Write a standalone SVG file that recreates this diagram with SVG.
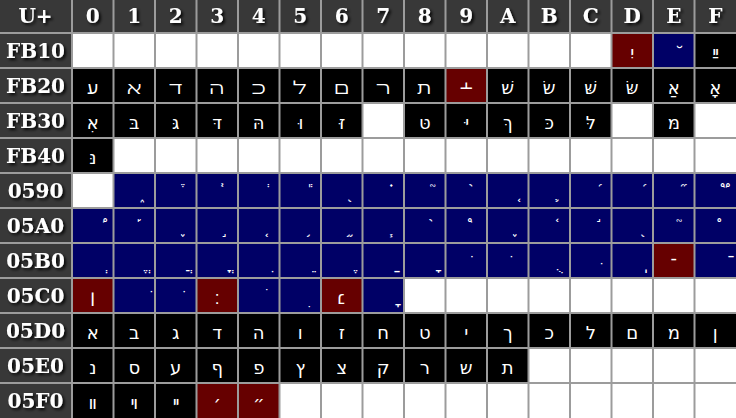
<svg xmlns="http://www.w3.org/2000/svg" width="736" height="418" viewBox="0 0 736 418">
<defs>
<filter id="sh" x="-20%" y="-40%" width="150%" height="190%"><feDropShadow dx="2" dy="2" stdDeviation="1.6" flood-color="#000" flood-opacity="0.9"/></filter>
<style>
.h{fill:#383838}.w{fill:#fff}.k{fill:#000}.n{fill:#000066}.m{fill:#660000}
.hd{font-family:"DejaVu Serif","Liberation Serif",serif;font-weight:bold;font-size:20px;fill:#fff;text-anchor:middle;filter:url(#sh)}
.c{font-family:"DejaVu Sans","Liberation Sans",sans-serif;font-size:18px;fill:#fff;text-anchor:middle}
</style>
</defs>
<rect x="0" y="0" width="736" height="418" fill="#9c9c9c"/>
<g id="headers">
<g id="corner"><rect class="h" x="0" y="0" width="71" height="32"/><text class="hd" x="35.5" y="23">U+</text></g>
<g id="col-0"><rect class="h" x="73" y="0" width="39.5" height="32"/><text class="hd" x="92.75" y="23">0</text></g>
<g id="col-1"><rect class="h" x="114.5" y="0" width="39.5" height="32"/><text class="hd" x="134.25" y="23">1</text></g>
<g id="col-2"><rect class="h" x="156" y="0" width="39.5" height="32"/><text class="hd" x="175.75" y="23">2</text></g>
<g id="col-3"><rect class="h" x="197.5" y="0" width="39.5" height="32"/><text class="hd" x="217.25" y="23">3</text></g>
<g id="col-4"><rect class="h" x="239" y="0" width="39.5" height="32"/><text class="hd" x="258.75" y="23">4</text></g>
<g id="col-5"><rect class="h" x="280.5" y="0" width="39.5" height="32"/><text class="hd" x="300.25" y="23">5</text></g>
<g id="col-6"><rect class="h" x="322" y="0" width="39.5" height="32"/><text class="hd" x="341.75" y="23">6</text></g>
<g id="col-7"><rect class="h" x="363.5" y="0" width="39.5" height="32"/><text class="hd" x="383.25" y="23">7</text></g>
<g id="col-8"><rect class="h" x="405" y="0" width="39.5" height="32"/><text class="hd" x="424.75" y="23">8</text></g>
<g id="col-9"><rect class="h" x="446.5" y="0" width="39.5" height="32"/><text class="hd" x="466.25" y="23">9</text></g>
<g id="col-A"><rect class="h" x="488" y="0" width="39.5" height="32"/><text class="hd" x="507.75" y="23">A</text></g>
<g id="col-B"><rect class="h" x="529.5" y="0" width="39.5" height="32"/><text class="hd" x="549.25" y="23">B</text></g>
<g id="col-C"><rect class="h" x="571" y="0" width="39.5" height="32"/><text class="hd" x="590.75" y="23">C</text></g>
<g id="col-D"><rect class="h" x="612.5" y="0" width="39.5" height="32"/><text class="hd" x="632.25" y="23">D</text></g>
<g id="col-E"><rect class="h" x="654" y="0" width="39.5" height="32"/><text class="hd" x="673.75" y="23">E</text></g>
<g id="col-F"><rect class="h" x="695.5" y="0" width="40.5" height="32"/><text class="hd" x="715.25" y="23">F</text></g>
<g id="row-FB10"><rect class="h" x="0" y="34" width="71" height="33"/><text class="hd" x="35.5" y="58">FB10</text></g>
<g id="row-FB20"><rect class="h" x="0" y="69" width="71" height="33"/><text class="hd" x="35.5" y="93">FB20</text></g>
<g id="row-FB30"><rect class="h" x="0" y="104" width="71" height="33"/><text class="hd" x="35.5" y="128">FB30</text></g>
<g id="row-FB40"><rect class="h" x="0" y="139" width="71" height="33"/><text class="hd" x="35.5" y="163">FB40</text></g>
<g id="row-0590"><rect class="h" x="0" y="174" width="71" height="33"/><text class="hd" x="35.5" y="198">0590</text></g>
<g id="row-05A0"><rect class="h" x="0" y="209" width="71" height="33"/><text class="hd" x="35.5" y="233">05A0</text></g>
<g id="row-05B0"><rect class="h" x="0" y="244" width="71" height="33"/><text class="hd" x="35.5" y="268">05B0</text></g>
<g id="row-05C0"><rect class="h" x="0" y="279" width="71" height="33"/><text class="hd" x="35.5" y="303">05C0</text></g>
<g id="row-05D0"><rect class="h" x="0" y="314" width="71" height="33"/><text class="hd" x="35.5" y="338">05D0</text></g>
<g id="row-05E0"><rect class="h" x="0" y="349" width="71" height="33"/><text class="hd" x="35.5" y="373">05E0</text></g>
<g id="row-05F0"><rect class="h" x="0" y="384" width="71" height="34"/><text class="hd" x="35.5" y="408">05F0</text></g>
</g>
<g id="cells">
<g id="uFB10"><rect class="w" x="73" y="34" width="39.5" height="33"/></g>
<g id="uFB11"><rect class="w" x="114.5" y="34" width="39.5" height="33"/></g>
<g id="uFB12"><rect class="w" x="156" y="34" width="39.5" height="33"/></g>
<g id="uFB13"><rect class="w" x="197.5" y="34" width="39.5" height="33"/></g>
<g id="uFB14"><rect class="w" x="239" y="34" width="39.5" height="33"/></g>
<g id="uFB15"><rect class="w" x="280.5" y="34" width="39.5" height="33"/></g>
<g id="uFB16"><rect class="w" x="322" y="34" width="39.5" height="33"/></g>
<g id="uFB17"><rect class="w" x="363.5" y="34" width="39.5" height="33"/></g>
<g id="uFB18"><rect class="w" x="405" y="34" width="39.5" height="33"/></g>
<g id="uFB19"><rect class="w" x="446.5" y="34" width="39.5" height="33"/></g>
<g id="uFB1A"><rect class="w" x="488" y="34" width="39.5" height="33"/></g>
<g id="uFB1B"><rect class="w" x="529.5" y="34" width="39.5" height="33"/></g>
<g id="uFB1C"><rect class="w" x="571" y="34" width="39.5" height="33"/></g>
<g id="uFB1D"><rect class="m" x="612.5" y="34" width="39.5" height="33"/><text class="c" x="632.25" y="59">&#xFB1D;</text></g>
<g id="uFB1E"><rect class="n" x="654" y="34" width="39.5" height="33"/><text class="c" x="673.75" y="59">&#xFB1E;</text></g>
<g id="uFB1F"><rect class="k" x="695.5" y="34" width="40.5" height="33"/><text class="c" x="715.25" y="59">&#xFB1F;</text></g>

<g id="uFB20"><rect class="k" x="73" y="69" width="39.5" height="33"/><text class="c" x="92.75" y="94">&#xFB20;</text></g>
<g id="uFB21"><rect class="k" x="114.5" y="69" width="39.5" height="33"/><text class="c" x="134.25" y="94">&#xFB21;</text></g>
<g id="uFB22"><rect class="k" x="156" y="69" width="39.5" height="33"/><text class="c" x="175.75" y="94">&#xFB22;</text></g>
<g id="uFB23"><rect class="k" x="197.5" y="69" width="39.5" height="33"/><text class="c" x="217.25" y="94">&#xFB23;</text></g>
<g id="uFB24"><rect class="k" x="239" y="69" width="39.5" height="33"/><text class="c" x="258.75" y="94">&#xFB24;</text></g>
<g id="uFB25"><rect class="k" x="280.5" y="69" width="39.5" height="33"/><text class="c" x="300.25" y="94">&#xFB25;</text></g>
<g id="uFB26"><rect class="k" x="322" y="69" width="39.5" height="33"/><text class="c" x="341.75" y="94">&#xFB26;</text></g>
<g id="uFB27"><rect class="k" x="363.5" y="69" width="39.5" height="33"/><text class="c" x="383.25" y="94">&#xFB27;</text></g>
<g id="uFB28"><rect class="k" x="405" y="69" width="39.5" height="33"/><text class="c" x="424.75" y="94">&#xFB28;</text></g>
<g id="uFB29"><rect class="m" x="446.5" y="69" width="39.5" height="33"/><text class="c" x="466.25" y="94">&#xFB29;</text></g>
<g id="uFB2A"><rect class="k" x="488" y="69" width="39.5" height="33"/><text class="c" x="507.75" y="94">&#xFB2A;</text></g>
<g id="uFB2B"><rect class="k" x="529.5" y="69" width="39.5" height="33"/><text class="c" x="549.25" y="94">&#xFB2B;</text></g>
<g id="uFB2C"><rect class="k" x="571" y="69" width="39.5" height="33"/><text class="c" x="590.75" y="94">&#xFB2C;</text></g>
<g id="uFB2D"><rect class="k" x="612.5" y="69" width="39.5" height="33"/><text class="c" x="632.25" y="94">&#xFB2D;</text></g>
<g id="uFB2E"><rect class="k" x="654" y="69" width="39.5" height="33"/><text class="c" x="673.75" y="94">&#xFB2E;</text></g>
<g id="uFB2F"><rect class="k" x="695.5" y="69" width="40.5" height="33"/><text class="c" x="715.25" y="94">&#xFB2F;</text></g>

<g id="uFB30"><rect class="k" x="73" y="104" width="39.5" height="33"/><text class="c" x="92.75" y="129">&#xFB30;</text></g>
<g id="uFB31"><rect class="k" x="114.5" y="104" width="39.5" height="33"/><text class="c" x="134.25" y="129">&#xFB31;</text></g>
<g id="uFB32"><rect class="k" x="156" y="104" width="39.5" height="33"/><text class="c" x="175.75" y="129">&#xFB32;</text></g>
<g id="uFB33"><rect class="k" x="197.5" y="104" width="39.5" height="33"/><text class="c" x="217.25" y="129">&#xFB33;</text></g>
<g id="uFB34"><rect class="k" x="239" y="104" width="39.5" height="33"/><text class="c" x="258.75" y="129">&#xFB34;</text></g>
<g id="uFB35"><rect class="k" x="280.5" y="104" width="39.5" height="33"/><text class="c" x="300.25" y="129">&#xFB35;</text></g>
<g id="uFB36"><rect class="k" x="322" y="104" width="39.5" height="33"/><text class="c" x="341.75" y="129">&#xFB36;</text></g>
<g id="uFB37"><rect class="w" x="363.5" y="104" width="39.5" height="33"/></g>
<g id="uFB38"><rect class="k" x="405" y="104" width="39.5" height="33"/><text class="c" x="424.75" y="129">&#xFB38;</text></g>
<g id="uFB39"><rect class="k" x="446.5" y="104" width="39.5" height="33"/><text class="c" x="466.25" y="129">&#xFB39;</text></g>
<g id="uFB3A"><rect class="k" x="488" y="104" width="39.5" height="33"/><text class="c" x="507.75" y="129">&#xFB3A;</text></g>
<g id="uFB3B"><rect class="k" x="529.5" y="104" width="39.5" height="33"/><text class="c" x="549.25" y="129">&#xFB3B;</text></g>
<g id="uFB3C"><rect class="k" x="571" y="104" width="39.5" height="33"/><text class="c" x="590.75" y="129">&#xFB3C;</text></g>
<g id="uFB3D"><rect class="w" x="612.5" y="104" width="39.5" height="33"/></g>
<g id="uFB3E"><rect class="k" x="654" y="104" width="39.5" height="33"/><text class="c" x="673.75" y="129">&#xFB3E;</text></g>
<g id="uFB3F"><rect class="w" x="695.5" y="104" width="40.5" height="33"/></g>

<g id="uFB40"><rect class="k" x="73" y="139" width="39.5" height="33"/><text class="c" x="92.75" y="164">&#xFB40;</text></g>
<g id="uFB41"><rect class="w" x="114.5" y="139" width="39.5" height="33"/></g>
<g id="uFB42"><rect class="w" x="156" y="139" width="39.5" height="33"/></g>
<g id="uFB43"><rect class="w" x="197.5" y="139" width="39.5" height="33"/></g>
<g id="uFB44"><rect class="w" x="239" y="139" width="39.5" height="33"/></g>
<g id="uFB45"><rect class="w" x="280.5" y="139" width="39.5" height="33"/></g>
<g id="uFB46"><rect class="w" x="322" y="139" width="39.5" height="33"/></g>
<g id="uFB47"><rect class="w" x="363.5" y="139" width="39.5" height="33"/></g>
<g id="uFB48"><rect class="w" x="405" y="139" width="39.5" height="33"/></g>
<g id="uFB49"><rect class="w" x="446.5" y="139" width="39.5" height="33"/></g>
<g id="uFB4A"><rect class="w" x="488" y="139" width="39.5" height="33"/></g>
<g id="uFB4B"><rect class="w" x="529.5" y="139" width="39.5" height="33"/></g>
<g id="uFB4C"><rect class="w" x="571" y="139" width="39.5" height="33"/></g>
<g id="uFB4D"><rect class="w" x="612.5" y="139" width="39.5" height="33"/></g>
<g id="uFB4E"><rect class="w" x="654" y="139" width="39.5" height="33"/></g>
<g id="uFB4F"><rect class="w" x="695.5" y="139" width="40.5" height="33"/></g>

<g id="u0590"><rect class="w" x="73" y="174" width="39.5" height="33"/></g>
<g id="u0591"><rect class="n" x="114.5" y="174" width="39.5" height="33"/><text class="c" x="142.25" y="199">&#x591;</text></g>
<g id="u0592"><rect class="n" x="156" y="174" width="39.5" height="33"/><text class="c" x="180.75" y="199">&#x592;</text></g>
<g id="u0593"><rect class="n" x="197.5" y="174" width="39.5" height="33"/><text class="c" x="222.25" y="199">&#x593;</text></g>
<g id="u0594"><rect class="n" x="239" y="174" width="39.5" height="33"/><text class="c" x="266.75" y="199">&#x594;</text></g>
<g id="u0595"><rect class="n" x="280.5" y="174" width="39.5" height="33"/><text class="c" x="308.25" y="199">&#x595;</text></g>
<g id="u0596"><rect class="n" x="322" y="174" width="39.5" height="33"/><text class="c" x="349.75" y="199">&#x596;</text></g>
<g id="u0597"><rect class="n" x="363.5" y="174" width="39.5" height="33"/><text class="c" x="391.25" y="199">&#x597;</text></g>
<g id="u0598"><rect class="n" x="405" y="174" width="39.5" height="33"/><text class="c" x="432.75" y="199">&#x598;</text></g>
<g id="u0599"><rect class="n" x="446.5" y="174" width="39.5" height="33"/><text class="c" x="472.25" y="199">&#x599;</text></g>
<g id="u059A"><rect class="n" x="488" y="174" width="39.5" height="33"/><text class="c" x="517.75" y="199">&#x59A;</text></g>
<g id="u059B"><rect class="n" x="529.5" y="174" width="39.5" height="33"/><text class="c" x="557.25" y="199">&#x59B;</text></g>
<g id="u059C"><rect class="n" x="571" y="174" width="39.5" height="33"/><text class="c" x="598.75" y="199">&#x59C;</text></g>
<g id="u059D"><rect class="n" x="612.5" y="174" width="39.5" height="33"/><text class="c" x="643.25" y="199">&#x59D;</text></g>
<g id="u059E"><rect class="n" x="654" y="174" width="39.5" height="33"/><text class="c" x="683.75" y="199">&#x59E;</text></g>
<g id="u059F"><rect class="n" x="695.5" y="174" width="40.5" height="33"/><text class="c" x="725.25" y="199">&#x59F;</text></g>

<g id="u05A0"><rect class="n" x="73" y="209" width="39.5" height="33"/><text class="c" x="102.75" y="234">&#x5A0;</text></g>
<g id="u05A1"><rect class="n" x="114.5" y="209" width="39.5" height="33"/><text class="c" x="139.25" y="234">&#x5A1;</text></g>
<g id="u05A2"><rect class="n" x="156" y="209" width="39.5" height="33"/><text class="c" x="182.75" y="234">&#x5A2;</text></g>
<g id="u05A3"><rect class="n" x="197.5" y="209" width="39.5" height="33"/><text class="c" x="224.25" y="234">&#x5A3;</text></g>
<g id="u05A4"><rect class="n" x="239" y="209" width="39.5" height="33"/><text class="c" x="266.75" y="234">&#x5A4;</text></g>
<g id="u05A5"><rect class="n" x="280.5" y="209" width="39.5" height="33"/><text class="c" x="308.25" y="234">&#x5A5;</text></g>
<g id="u05A6"><rect class="n" x="322" y="209" width="39.5" height="33"/><text class="c" x="349.75" y="234">&#x5A6;</text></g>
<g id="u05A7"><rect class="n" x="363.5" y="209" width="39.5" height="33"/><text class="c" x="391.25" y="234">&#x5A7;</text></g>
<g id="u05A8"><rect class="n" x="405" y="209" width="39.5" height="33"/><text class="c" x="430.75" y="234">&#x5A8;</text></g>
<g id="u05A9"><rect class="n" x="446.5" y="209" width="39.5" height="33"/><text class="c" x="472.25" y="234">&#x5A9;</text></g>
<g id="u05AA"><rect class="n" x="488" y="209" width="39.5" height="33"/><text class="c" x="514.75" y="234">&#x5AA;</text></g>
<g id="u05AB"><rect class="n" x="529.5" y="209" width="39.5" height="33"/><text class="c" x="557.25" y="234">&#x5AB;</text></g>
<g id="u05AC"><rect class="n" x="571" y="209" width="39.5" height="33"/><text class="c" x="598.75" y="234">&#x5AC;</text></g>
<g id="u05AD"><rect class="n" x="612.5" y="209" width="39.5" height="33"/><text class="c" x="641.25" y="234">&#x5AD;</text></g>
<g id="u05AE"><rect class="n" x="654" y="209" width="39.5" height="33"/><text class="c" x="681.75" y="234">&#x5AE;</text></g>
<g id="u05AF"><rect class="n" x="695.5" y="209" width="40.5" height="33"/><text class="c" x="719.25" y="234">&#x5AF;</text></g>

<g id="u05B0"><rect class="n" x="73" y="244" width="39.5" height="33"/><text class="c" x="100.75" y="269">&#x5B0;</text></g>
<g id="u05B1"><rect class="n" x="114.5" y="244" width="39.5" height="33"/><text class="c" x="142.25" y="269">&#x5B1;</text></g>
<g id="u05B2"><rect class="n" x="156" y="244" width="39.5" height="33"/><text class="c" x="183.75" y="269">&#x5B2;</text></g>
<g id="u05B3"><rect class="n" x="197.5" y="244" width="39.5" height="33"/><text class="c" x="225.25" y="269">&#x5B3;</text></g>
<g id="u05B4"><rect class="n" x="239" y="244" width="39.5" height="33"/><text class="c" x="266.75" y="269">&#x5B4;</text></g>
<g id="u05B5"><rect class="n" x="280.5" y="244" width="39.5" height="33"/><text class="c" x="308.25" y="269">&#x5B5;</text></g>
<g id="u05B6"><rect class="n" x="322" y="244" width="39.5" height="33"/><text class="c" x="349.75" y="269">&#x5B6;</text></g>
<g id="u05B7"><rect class="n" x="363.5" y="244" width="39.5" height="33"/><text class="c" x="391.25" y="269">&#x5B7;</text></g>
<g id="u05B8"><rect class="n" x="405" y="244" width="39.5" height="33"/><text class="c" x="432.75" y="269">&#x5B8;</text></g>
<g id="u05B9"><rect class="n" x="446.5" y="244" width="39.5" height="33"/><text class="c" x="471.25" y="269">&#x5B9;</text></g>
<g id="u05BA"><rect class="n" x="488" y="244" width="39.5" height="33"/><text class="c" x="510.75" y="269">&#x5BA;</text></g>
<g id="u05BB"><rect class="n" x="529.5" y="244" width="39.5" height="33"/><text class="c" x="554.25" y="269">&#x5BB;</text></g>
<g id="u05BC"><rect class="n" x="571" y="244" width="39.5" height="33"/><text class="c" x="595.75" y="269">&#x5BC;</text></g>
<g id="u05BD"><rect class="n" x="612.5" y="244" width="39.5" height="33"/><text class="c" x="640.25" y="269">&#x5BD;</text></g>
<g id="u05BE"><rect class="m" x="654" y="244" width="39.5" height="33"/><text class="c" x="673.75" y="269">&#x5BE;</text></g>
<g id="u05BF"><rect class="n" x="695.5" y="244" width="40.5" height="33"/><text class="c" x="725.25" y="269">&#x5BF;</text></g>

<g id="u05C0"><rect class="m" x="73" y="279" width="39.5" height="33"/><text class="c" x="92.75" y="304">&#x5C0;</text></g>
<g id="u05C1"><rect class="n" x="114.5" y="279" width="39.5" height="33"/><text class="c" x="139.25" y="304">&#x5C1;</text></g>
<g id="u05C2"><rect class="n" x="156" y="279" width="39.5" height="33"/><text class="c" x="181.75" y="304">&#x5C2;</text></g>
<g id="u05C3"><rect class="m" x="197.5" y="279" width="39.5" height="33"/><text class="c" x="217.25" y="304">&#x5C3;</text></g>
<g id="u05C4"><rect class="n" x="239" y="279" width="39.5" height="33"/><text class="c" x="266.75" y="304">&#x5C4;</text></g>
<g id="u05C5"><rect class="n" x="280.5" y="279" width="39.5" height="33"/><text class="c" x="309.25" y="304">&#x5C5;</text></g>
<g id="u05C6"><rect class="m" x="322" y="279" width="39.5" height="33"/><text class="c" x="341.75" y="304">&#x5C6;</text></g>
<g id="u05C7"><rect class="n" x="363.5" y="279" width="39.5" height="33"/><text class="c" x="392.25" y="304">&#x5C7;</text></g>
<g id="u05C8"><rect class="w" x="405" y="279" width="39.5" height="33"/></g>
<g id="u05C9"><rect class="w" x="446.5" y="279" width="39.5" height="33"/></g>
<g id="u05CA"><rect class="w" x="488" y="279" width="39.5" height="33"/></g>
<g id="u05CB"><rect class="w" x="529.5" y="279" width="39.5" height="33"/></g>
<g id="u05CC"><rect class="w" x="571" y="279" width="39.5" height="33"/></g>
<g id="u05CD"><rect class="w" x="612.5" y="279" width="39.5" height="33"/></g>
<g id="u05CE"><rect class="w" x="654" y="279" width="39.5" height="33"/></g>
<g id="u05CF"><rect class="w" x="695.5" y="279" width="40.5" height="33"/></g>

<g id="u05D0"><rect class="k" x="73" y="314" width="39.5" height="33"/><text class="c" x="92.75" y="339">&#x5D0;</text></g>
<g id="u05D1"><rect class="k" x="114.5" y="314" width="39.5" height="33"/><text class="c" x="134.25" y="339">&#x5D1;</text></g>
<g id="u05D2"><rect class="k" x="156" y="314" width="39.5" height="33"/><text class="c" x="175.75" y="339">&#x5D2;</text></g>
<g id="u05D3"><rect class="k" x="197.5" y="314" width="39.5" height="33"/><text class="c" x="217.25" y="339">&#x5D3;</text></g>
<g id="u05D4"><rect class="k" x="239" y="314" width="39.5" height="33"/><text class="c" x="258.75" y="339">&#x5D4;</text></g>
<g id="u05D5"><rect class="k" x="280.5" y="314" width="39.5" height="33"/><text class="c" x="300.25" y="339">&#x5D5;</text></g>
<g id="u05D6"><rect class="k" x="322" y="314" width="39.5" height="33"/><text class="c" x="341.75" y="339">&#x5D6;</text></g>
<g id="u05D7"><rect class="k" x="363.5" y="314" width="39.5" height="33"/><text class="c" x="383.25" y="339">&#x5D7;</text></g>
<g id="u05D8"><rect class="k" x="405" y="314" width="39.5" height="33"/><text class="c" x="424.75" y="339">&#x5D8;</text></g>
<g id="u05D9"><rect class="k" x="446.5" y="314" width="39.5" height="33"/><text class="c" x="466.25" y="339">&#x5D9;</text></g>
<g id="u05DA"><rect class="k" x="488" y="314" width="39.5" height="33"/><text class="c" x="507.75" y="339">&#x5DA;</text></g>
<g id="u05DB"><rect class="k" x="529.5" y="314" width="39.5" height="33"/><text class="c" x="549.25" y="339">&#x5DB;</text></g>
<g id="u05DC"><rect class="k" x="571" y="314" width="39.5" height="33"/><text class="c" x="590.75" y="339">&#x5DC;</text></g>
<g id="u05DD"><rect class="k" x="612.5" y="314" width="39.5" height="33"/><text class="c" x="632.25" y="339">&#x5DD;</text></g>
<g id="u05DE"><rect class="k" x="654" y="314" width="39.5" height="33"/><text class="c" x="673.75" y="339">&#x5DE;</text></g>
<g id="u05DF"><rect class="k" x="695.5" y="314" width="40.5" height="33"/><text class="c" x="715.25" y="339">&#x5DF;</text></g>

<g id="u05E0"><rect class="k" x="73" y="349" width="39.5" height="33"/><text class="c" x="92.75" y="374">&#x5E0;</text></g>
<g id="u05E1"><rect class="k" x="114.5" y="349" width="39.5" height="33"/><text class="c" x="134.25" y="374">&#x5E1;</text></g>
<g id="u05E2"><rect class="k" x="156" y="349" width="39.5" height="33"/><text class="c" x="175.75" y="374">&#x5E2;</text></g>
<g id="u05E3"><rect class="k" x="197.5" y="349" width="39.5" height="33"/><text class="c" x="217.25" y="374">&#x5E3;</text></g>
<g id="u05E4"><rect class="k" x="239" y="349" width="39.5" height="33"/><text class="c" x="258.75" y="374">&#x5E4;</text></g>
<g id="u05E5"><rect class="k" x="280.5" y="349" width="39.5" height="33"/><text class="c" x="300.25" y="374">&#x5E5;</text></g>
<g id="u05E6"><rect class="k" x="322" y="349" width="39.5" height="33"/><text class="c" x="341.75" y="374">&#x5E6;</text></g>
<g id="u05E7"><rect class="k" x="363.5" y="349" width="39.5" height="33"/><text class="c" x="383.25" y="374">&#x5E7;</text></g>
<g id="u05E8"><rect class="k" x="405" y="349" width="39.5" height="33"/><text class="c" x="424.75" y="374">&#x5E8;</text></g>
<g id="u05E9"><rect class="k" x="446.5" y="349" width="39.5" height="33"/><text class="c" x="466.25" y="374">&#x5E9;</text></g>
<g id="u05EA"><rect class="k" x="488" y="349" width="39.5" height="33"/><text class="c" x="507.75" y="374">&#x5EA;</text></g>
<g id="u05EB"><rect class="w" x="529.5" y="349" width="39.5" height="33"/></g>
<g id="u05EC"><rect class="w" x="571" y="349" width="39.5" height="33"/></g>
<g id="u05ED"><rect class="w" x="612.5" y="349" width="39.5" height="33"/></g>
<g id="u05EE"><rect class="w" x="654" y="349" width="39.5" height="33"/></g>
<g id="u05EF"><rect class="w" x="695.5" y="349" width="40.5" height="33"/></g>

<g id="u05F0"><rect class="k" x="73" y="384" width="39.5" height="34"/><text class="c" x="92.75" y="409">&#x5F0;</text></g>
<g id="u05F1"><rect class="k" x="114.5" y="384" width="39.5" height="34"/><text class="c" x="134.25" y="409">&#x5F1;</text></g>
<g id="u05F2"><rect class="k" x="156" y="384" width="39.5" height="34"/><text class="c" x="175.75" y="409">&#x5F2;</text></g>
<g id="u05F3"><rect class="m" x="197.5" y="384" width="39.5" height="34"/><text class="c" x="217.25" y="409">&#x5F3;</text></g>
<g id="u05F4"><rect class="m" x="239" y="384" width="39.5" height="34"/><text class="c" x="258.75" y="409">&#x5F4;</text></g>
<g id="u05F5"><rect class="w" x="280.5" y="384" width="39.5" height="34"/></g>
<g id="u05F6"><rect class="w" x="322" y="384" width="39.5" height="34"/></g>
<g id="u05F7"><rect class="w" x="363.5" y="384" width="39.5" height="34"/></g>
<g id="u05F8"><rect class="w" x="405" y="384" width="39.5" height="34"/></g>
<g id="u05F9"><rect class="w" x="446.5" y="384" width="39.5" height="34"/></g>
<g id="u05FA"><rect class="w" x="488" y="384" width="39.5" height="34"/></g>
<g id="u05FB"><rect class="w" x="529.5" y="384" width="39.5" height="34"/></g>
<g id="u05FC"><rect class="w" x="571" y="384" width="39.5" height="34"/></g>
<g id="u05FD"><rect class="w" x="612.5" y="384" width="39.5" height="34"/></g>
<g id="u05FE"><rect class="w" x="654" y="384" width="39.5" height="34"/></g>
<g id="u05FF"><rect class="w" x="695.5" y="384" width="40.5" height="34"/></g>
</g>
</svg>
